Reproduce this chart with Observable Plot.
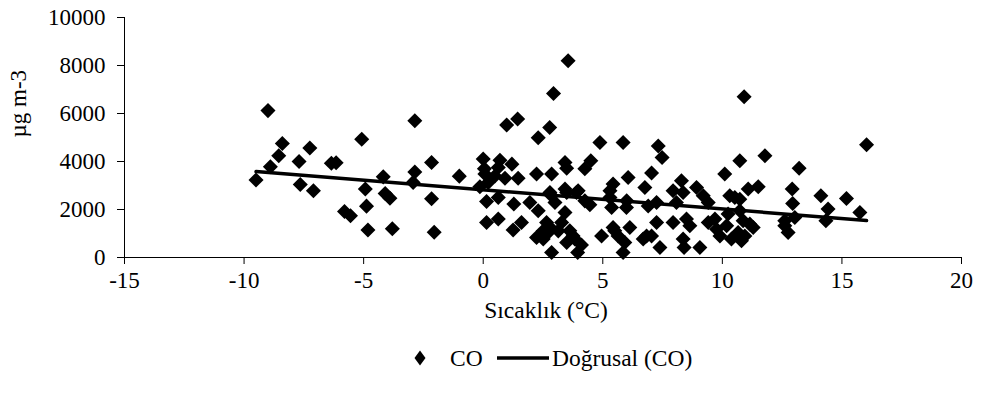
<!DOCTYPE html>
<html>
<head>
<meta charset="utf-8">
<script src="https://cdn.jsdelivr.net/npm/d3@7"></script>
<script src="https://cdn.jsdelivr.net/npm/@observablehq/plot@0.6"></script>
<style>
  html, body { margin: 0; padding: 0; background: #fff; }
  #wrap { position: relative; width: 983px; height: 403px; font-family: 'Liberation Serif', 'Times New Roman', serif; color: #000; }
  .lg { position: absolute; font-size: 23.5px; line-height: 24px; white-space: nowrap; }
</style>
</head>
<body>
<div id="wrap"></div>
<script>
// Temperature (°C) and CO (µg m-3)
const temps = [
  -9.5, -9.0, -8.9, -8.55, -8.4, -7.7, -7.65, -7.25, -7.1, -6.35, -6.15, -5.8, -5.55, -5.08, -4.93, -4.88, -4.82,
  -4.18, -4.1, -3.9, -3.8, -2.86, -2.86, -2.93, -2.16, -2.16, -2.05, -1.0,
  0.0, 0.05, 0.07, 0.7, 0.63, 1.2, 1.46, 0.91, 0.49, 0.21, -0.14, 0.14, 0.63, 1.28, 1.95, 2.3, 0.14, 0.63, 1.25, 1.6,
  0.98, 1.44, 2.3, 2.78, 2.94, 3.55, 2.23, 2.51, 2.65, 2.86, 2.23, 2.86, 2.86, 2.79, 2.51, 2.72, 2.8,
  3.0, 3.42, 3.97, 3.49, 3.9, 4.25, 4.46, 3.42, 3.14, 3.28, 3.62, 3.76, 3.83, 3.49, 4.11, 3.95, 3.42, 3.49, 4.25, 4.5, 4.88, 4.95,
  5.85, 6.06, 5.43, 5.3, 6.76, 5.37, 5.99, 5.43, 5.64, 6.13, 5.92, 5.85, 6.69, 6.9, 7.04, 5.5, 5.3, 6.0, 6.83,
  7.32, 7.48, 8.29, 7.94, 8.92, 9.2, 9.41, 8.36, 7.25, 8.08, 10.1, 10.73, 10.91, 10.31, 10.52, 7.25, 7.94, 8.5, 8.64,
  7.04, 7.39, 8.36, 8.4, 9.06, 9.41, 9.69, 9.76, 9.9, 10.18, 10.38, 10.66, 10.24, 10.87, 10.8, 10.94, 10.73, 10.73,
  11.78, 13.21, 11.08, 11.5, 12.92, 14.12, 15.19, 12.94, 14.42, 15.75, 14.33, 12.61, 13.03, 12.75, 12.61, 11.15, 11.29, 16.03
];
const coValues = [
  3230, 6120, 3780, 4240, 4750, 4000, 3040, 4560, 2780, 3930, 3950, 1920, 1740, 4930, 2850, 2140, 1150,
  3360, 2670, 2470, 1200, 5700, 3560, 3130, 3960, 2450, 1050, 3390,
  4100, 3700, 3475, 4050, 3750, 3890, 3300, 3300, 3400, 3125, 2950, 2330, 2500, 2225, 2290, 1950, 1460, 1600, 1150, 1460,
  5520, 5770, 4990, 5420, 6830, 8200, 830, 1110, 1460, 210, 3475, 3475, 2570, 2710, 770, 1040, 1250,
  2290, 2850, 2780, 2710, 2710, 2360, 2200, 1875, 1110, 1460, 1110, 900, 770, 625, 520, 210, 3960, 3720, 3700, 4030, 4790, 900,
  4790, 3330, 3060, 2780, 2920, 2080, 2080, 1250, 900, 1250, 625, 210, 770, 2150, 3520, 1110, 2500, 2360, 900,
  4650, 4170, 3200, 2780, 2920, 2570, 2290, 2710, 2290, 2290, 3475, 4030, 6700, 2570, 2500, 1460, 1460, 1600, 1320,
  900, 420, 770, 420, 420, 1460, 1600, 1180, 900, 1320, 770, 1040, 1810, 1530, 700, 900, 2430, 1950,
  4240, 3720, 2850, 2950, 2850, 2570, 2460, 2250, 2020, 1875, 1530, 1530, 1670, 1040, 1320, 1390, 1250, 4700
];
// Linear trendline (Doğrusal) coefficients
const trendIntercept = [2820];
const trendSlope = [-80];
const xTicks = [-15, -10, -5, 0, 5, 10, 15, 20];
const yTicks = [0, 2000, 4000, 6000, 8000, 10000];
const xTitle = "Sıcaklık (°C)";
const yTitle = "µg m-3";
const seriesName = "CO";
const trendName = "Doğrusal (CO)";

const data = temps.map((t, i) => ({t, co: coValues[i]}));
const trend = d3.extent(temps).map(t => ({t, co: trendIntercept[0] + trendSlope[0] * t}));

const diamond = {
  draw(ctx, size) {
    const h = Math.sqrt(size / 2);
    ctx.moveTo(0, -h); ctx.lineTo(h, 0); ctx.lineTo(0, h); ctx.lineTo(-h, 0); ctx.closePath();
  }
};

const serif = "'Liberation Serif', 'Times New Roman', serif";

const chart = Plot.plot({
  width: 983,
  height: 340,
  marginTop: 17,
  marginBottom: 83,
  marginLeft: 124,
  marginRight: 22,
  style: {fontFamily: serif, fontSize: "23px", background: "white", color: "black", overflow: "visible"},
  x: {domain: [-15, 20]},
  y: {domain: [0, 10000]},
  marks: [
    Plot.axisX({ticks: xTicks, tickSize: 7, tickPadding: 7, label: null, tickFormat: d => String(d), stroke: "#000", fontFamily: serif, fontSize: 23}),
    Plot.axisY({ticks: yTicks, tickSize: 7, tickPadding: 12, label: null, tickFormat: d => String(d), stroke: "#000", fontFamily: serif, fontSize: 23}),
    Plot.ruleX([-15], {stroke: "#000"}),
    Plot.ruleY([0], {stroke: "#000"}),
    Plot.dot(data, {x: "t", y: "co", symbol: diamond, r: 6, fill: "#000", stroke: "none"}),
    Plot.line(trend, {x: "t", y: "co", stroke: "#000", strokeWidth: 3.5}),
    Plot.text([xTitle], {frameAnchor: "bottom", dx: 3, dy: 60, text: d => d, fontSize: 23.5, fontFamily: serif}),
    Plot.text([yTitle], {frameAnchor: "left", dx: -106, rotate: -90, text: d => d, fontSize: 23, fontFamily: serif})
  ]
});
const wrap = document.getElementById("wrap");
wrap.appendChild(chart);

// Legend
const legend = document.createElement("div");
legend.innerHTML = `
  <svg style="position:absolute;left:414px;top:350px" width="12" height="16"><path d="M6,0.5L11.5,8L6,15.5L0.5,8Z" fill="#000"/></svg>
  <span class="lg" style="left:450px;top:346px">${seriesName}</span>
  <svg style="position:absolute;left:497px;top:355px" width="52" height="6"><line x1="0" y1="3" x2="52" y2="3" stroke="#000" stroke-width="3.5"/></svg>
  <span class="lg" style="left:552px;top:346px">${trendName}</span>`;
wrap.appendChild(legend);
</script>
</body>
</html>
